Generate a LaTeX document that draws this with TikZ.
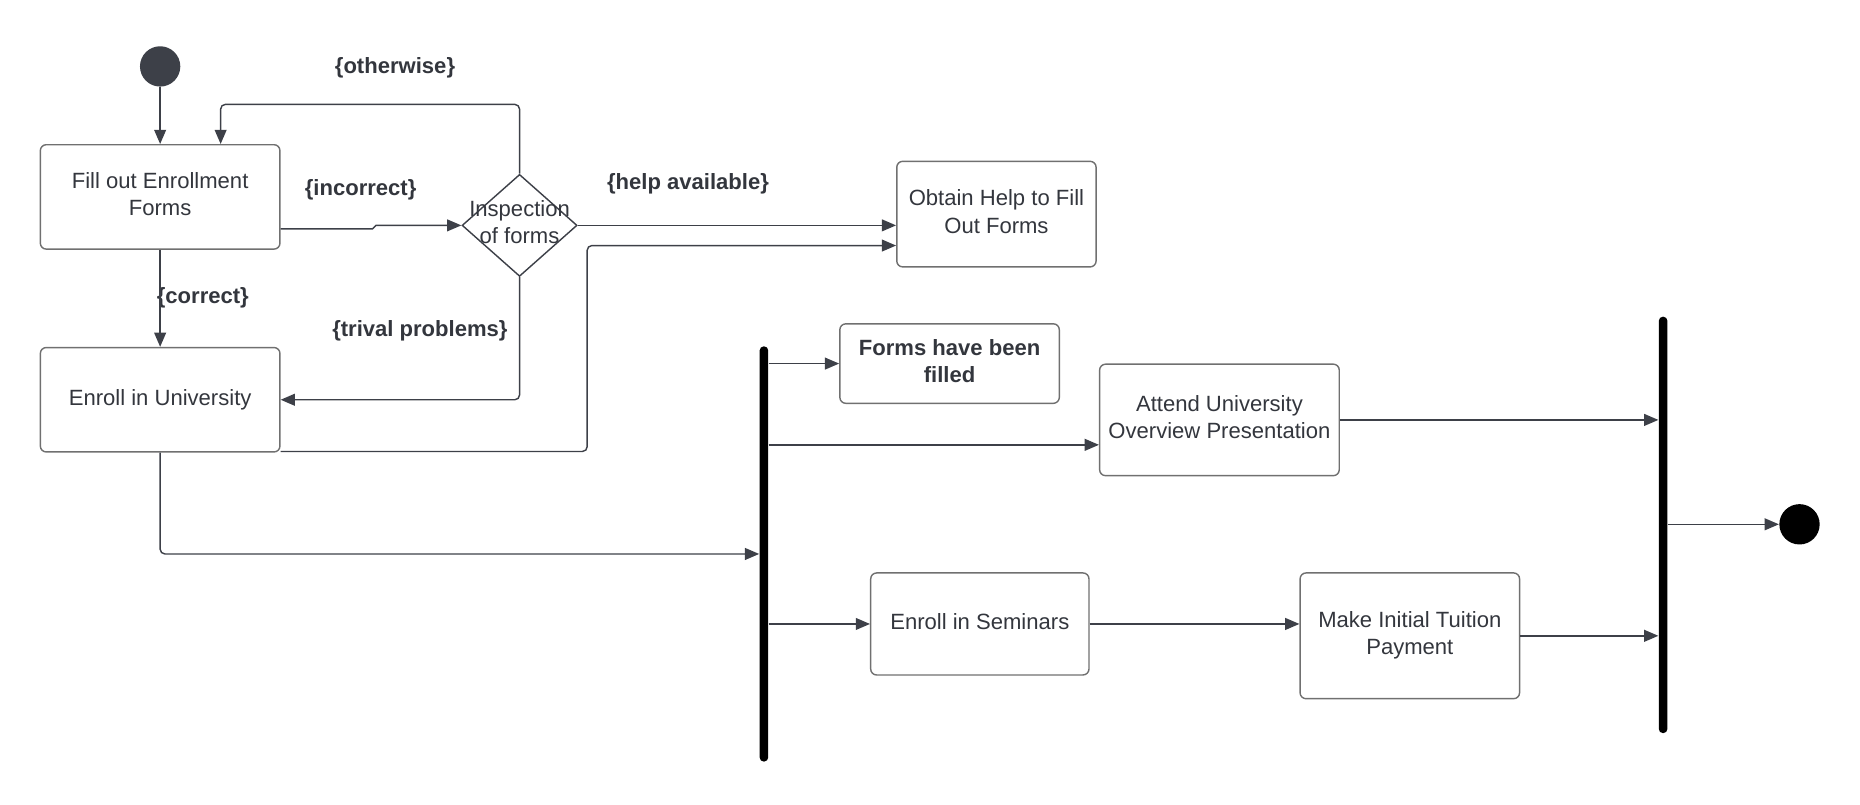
\documentclass[tikz,border=0pt]{standalone}
\usepackage{fontspec}
\setmainfont{Liberation Sans}
\usetikzlibrary{arrows.meta,shapes.geometric,calc}
\definecolor{ln}{HTML}{3D4048}
\definecolor{bx}{HTML}{707070}
\definecolor{tx}{HTML}{33363D}
\newcommand\bt[1]{\begin{tabular}{@{}c@{}}#1\end{tabular}}
\tikzset{
  act/.style={draw=bx, line width=0.6pt, rounded corners=2.5pt, text=tx,
    font=\fontsize{9.3}{11.4}\selectfont, inner sep=0pt},
  lbl/.style={text=tx, font=\fontsize{9.3}{11.4}\selectfont\bfseries, inner sep=0pt},
  arr/.style={draw=ln, line width=0.6pt, -{Triangle[length=6pt,width=5pt]}, rounded corners=2pt},
  bar/.style={fill=black, rounded corners=1.7pt, minimum width=3.6pt, inner sep=0pt},
}
\begin{document}
\begin{tikzpicture}[x=0.5pt,y=-0.5pt]
\useasboundingbox (0,0) rectangle (1568,678);
% nodes
\node[circle, fill=ln, minimum size=17pt, inner sep=0pt] (start) at (135,56) {};
\node[act, minimum width=101pt, minimum height=44pt] (fill) at (135,166) {\bt{Fill out Enrollment\\Forms}};
\node[act, minimum width=101pt, minimum height=44pt] (eu) at (135,337) {\bt{Enroll in University}};
\node[diamond, draw=ln, line width=0.6pt, minimum width=48.5pt, minimum height=43pt, inner sep=0pt] (dia) at (438,190) {};
\node[text=tx, font=\fontsize{9.3}{11.4}\selectfont, align=center, inner sep=0pt] (diat) at (438,187) {Inspection\\of forms};
\node[act, minimum width=84pt, minimum height=44.5pt] (help) at (840,180.5) {\bt{Obtain Help to Fill\\Out Forms}};
\node[act, minimum width=92.5pt, minimum height=33.5pt, font=\fontsize{9.3}{11.4}\selectfont\bfseries] (ff) at (800.5,306.5) {\bt{Forms have been\\filled}};
\node[act, minimum width=101pt, minimum height=47pt] (att) at (1028,354) {\bt{Attend University\\Overview Presentation}};
\node[act, minimum width=92pt, minimum height=43pt] (sem) at (826,526) {\bt{Enroll in Seminars}};
\node[act, minimum width=92.5pt, minimum height=53pt] (make) at (1188.5,536) {\bt{Make Initial Tuition\\Payment}};
\node[bar, minimum height=175pt] (fork) at (644,467) {};
\node[bar, minimum height=175.5pt] (join) at (1402,442.5) {};
\node[circle, fill=black, minimum size=17pt, inner sep=0pt] (endc) at (1517,442) {};
% labels
\node[lbl] (lo) at (333,57) {\{otherwise\}};
\node[lbl] (li) at (304,160) {\{incorrect\}};
\node[lbl] (lc) at (171,251) {\{correct\}};
\node[lbl] (lt) at (354,279) {\{trival problems\}};
\node[lbl] (lh) at (580,155) {\{help available\}};
% coordinates
\coordinate (oc) at (186,88);
\coordinate (ji) at (314,193);
\coordinate (eh) at (495,207);
% connectors
\draw[arr] (start) -- (fill.north -| start);
\draw[arr] (fill) -- (eu);
\draw[arr, rounded corners=0pt] (fill.east |- ji) -- (ji) -- ++(3,-3) -- (dia.west);
\draw[arr] (dia.north) |- (oc) -- (oc |- fill.north);
\draw[arr] (dia.south) |- (eu.east);
\draw[arr] (dia.east) -- (dia.east -| help.west);
\draw[arr] ([yshift=0.5pt]eu.south east) -| (eh) -- (eh -| help.west);
\draw[arr] (eu.south) |- (fork.west);
\draw[arr] (fork.east |- ff.west) -- (ff.west);
\draw[arr] (fork.east |- 0,375) -- (att.west |- 0,375);
\draw[arr] (fork.east |- sem.west) -- (sem.west);
\draw[arr] (sem.east) -- (sem.east -| make.west);
\draw[arr] (att.east) -- (att.east -| join.west);
\draw[arr] (make.east) -- (make.east -| join.west);
\draw[arr] (join.east |- endc.west) -- (endc.west);
\end{tikzpicture}
\end{document}
